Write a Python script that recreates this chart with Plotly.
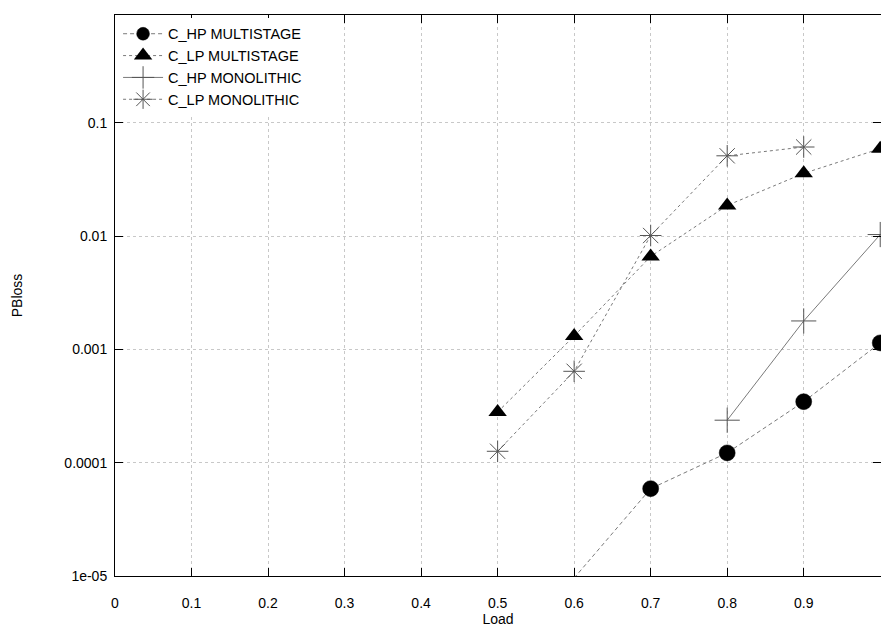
import plotly.graph_objects as go

hp_multi_x = [0.6, 0.7, 0.8, 0.9, 1.0]
hp_multi_y = [9.6e-6, 5.9e-5, 1.22e-4, 3.45e-4, 1.14e-3]

lp_multi_x = [0.5, 0.6, 0.7, 0.8, 0.9, 1.0]
lp_multi_y = [2.8e-4, 1.31e-3, 6.6e-3, 1.86e-2, 3.57e-2, 5.9e-2]

hp_mono_x = [0.8, 0.9, 1.0]
hp_mono_y = [2.37e-4, 1.78e-3, 1.03e-2]

lp_mono_x = [0.5, 0.6, 0.7, 0.8, 0.9]
lp_mono_y = [1.26e-4, 6.4e-4, 1.01e-2, 5.1e-2, 6.1e-2]

x_ticks = [0, 0.1, 0.2, 0.3, 0.4, 0.5, 0.6, 0.7, 0.8, 0.9, 1.0]
x_ticktext = ["0", "0.1", "0.2", "0.3", "0.4", "0.5", "0.6", "0.7", "0.8", "0.9", "1"]
y_ticks = [1e-5, 1e-4, 1e-3, 1e-2, 1e-1]
y_ticktext = ["1e-05", "0.0001", "0.001", "0.01", "0.1"]

FONT = "Liberation Sans, Arial, Helvetica, sans-serif"
LINE_GRAY = "#7a7a7a"

fig = go.Figure()

# hide marker of points below the visible range (as gnuplot does)
ymin = 1e-5
hp_sizes = [0 if v < ymin else 16 for v in hp_multi_y]

fig.add_trace(go.Scatter(
    x=hp_multi_x, y=hp_multi_y, name="C_HP MULTISTAGE", mode="lines+markers",
    line=dict(color=LINE_GRAY, width=1, dash="4px,3px"),
    marker=dict(symbol="circle", size=hp_sizes, color="#000000", opacity=1,
                line=dict(width=0.5, color="#000000")),
))
fig.add_trace(go.Scatter(
    x=lp_multi_x, y=lp_multi_y, name="C_LP MULTISTAGE", mode="lines+markers",
    line=dict(color=LINE_GRAY, width=1, dash="3px,3px"),
    marker=dict(symbol="triangle-up", size=16, color="#000000", opacity=1,
                line=dict(width=0)),
))
fig.add_trace(go.Scatter(
    x=hp_mono_x, y=hp_mono_y, name="C_HP MONOLITHIC", mode="lines+markers",
    line=dict(color=LINE_GRAY, width=1),
    marker=dict(symbol="cross-thin-open", size=18, color="#555555", line=dict(width=1, color="#555555")),
))
fig.add_trace(go.Scatter(
    x=lp_mono_x, y=lp_mono_y, name="C_LP MONOLITHIC", mode="lines+markers",
    line=dict(color=LINE_GRAY, width=1, dash="3px,3px"),
    marker=dict(symbol="asterisk-open", size=18, color="#555555", line=dict(width=1, color="#555555")),
))

fig.update_layout(
    width=881, height=628,
    margin=dict(l=115, r=0, t=15, b=52),
    paper_bgcolor="white", plot_bgcolor="white",
    font=dict(family=FONT, size=14, color="black"),
    showlegend=True,
    legend=dict(x=0.004, y=0.995, xanchor="left", yanchor="top",
                bgcolor="white", borderwidth=0,
                font=dict(size=14.5), tracegroupgap=0, itemwidth=40),
    xaxis=dict(
        title=dict(text="Load", standoff=2, font=dict(size=14)),
        range=[0, 1.001], tickvals=x_ticks, ticktext=x_ticktext,
        showgrid=True, gridcolor="#c8c8c8", griddash="dot", gridwidth=1,
        ticks="inside", ticklen=8, tickcolor="black", ticklabelstandoff=14,
        showline=True, linecolor="black", linewidth=1, mirror="ticks",
        zeroline=False, tickfont=dict(size=14),
    ),
    yaxis=dict(
        title=dict(text="PBloss", standoff=38, font=dict(size=14)),
        type="log", range=[-5, -0.05], tickvals=y_ticks, ticktext=y_ticktext,
        showgrid=True, gridcolor="#c8c8c8", griddash="dot", gridwidth=1,
        ticks="inside", ticklen=8, tickcolor="black", ticklabelstandoff=4,
        showline=True, linecolor="black", linewidth=1, mirror="ticks",
        zeroline=False, tickfont=dict(size=14),
    ),
)

fig.write_html("out.html")
